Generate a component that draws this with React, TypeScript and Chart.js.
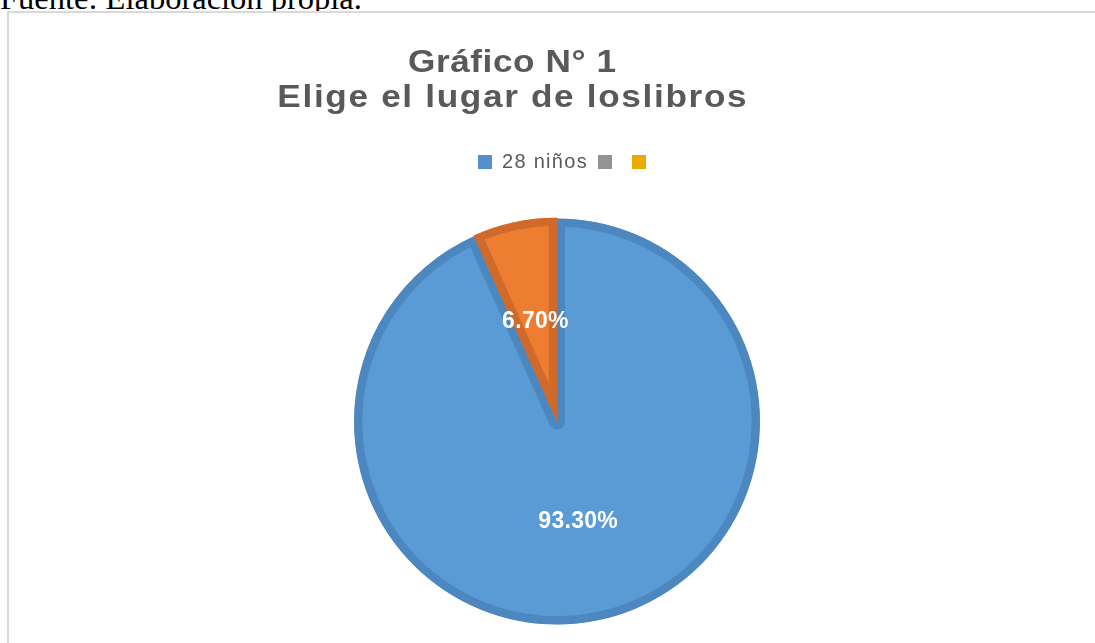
import React, { useEffect, useRef } from 'react';
import { Chart, registerables } from 'chart.js';

Chart.register(...registerables);

const categories = ['28 niños', '', '', ''];
const percentValues = [93.3, 6.7, 0, 0];
const titleLines = ['Gráfico N° 1', 'Elige el lugar de loslibros'];
const sourceNote = 'Fuente: Elaboración propia.';
const sliceFills = ['#5B9BD5', '#ED7D31', '#9A9A9A', '#EAAC00'];
const sliceBorders = ['#4C87BF', '#D06A2B', '#8A8A8A', '#D49C00'];
const legendColors = ['#5590CD', '#ED7D31', '#939393', '#E9AB00'];
const legendHidden = [1];

const SANS = '"Liberation Sans", Arial, Helvetica, sans-serif';

export default function App() {
  const ref = useRef<HTMLCanvasElement>(null);

  useEffect(() => {
    const canvas = ref.current as HTMLCanvasElement;

    const spacingPlugin = {
      id: 'legendSpacing',
      beforeLayout(chart: any) {
        chart.ctx.letterSpacing = '1.3px';
      },
      afterLayout(chart: any) {
        if (chart.legend) {
          chart.legend.left += 10;
          chart.legend.right += 10;
        }
      },
      beforeDraw(chart: any) {
        chart.ctx.letterSpacing = '1.3px';
      },
    };

    const labelPlugin = {
      id: 'sliceLabels',
      afterDatasetsDraw(chart: any) {
        const ctx = chart.ctx;
        const meta = chart.getDatasetMeta(0);
        ctx.save();
        ctx.letterSpacing = '0.3px';
        ctx.font = `bold 23px ${SANS}`;
        ctx.fillStyle = '#FFFFFF';
        ctx.textAlign = 'center';
        ctx.textBaseline = 'middle';
        meta.data.forEach((arc: any, i: number) => {
          const v = percentValues[i];
          if (!v) return;
          const p = arc.tooltipPosition(false);
          ctx.fillText(v.toFixed(2) + '%', p.x, p.y + 1);
        });
        ctx.restore();
      },
    };

    const titlePlugin = {
      id: 'twoLineTitle',
      afterDraw(chart: any) {
        const ctx = chart.ctx;
        const spacing = [0.5, 1.5];
        const baselines = [72, 107];
        const stretch = 1.1;
        titleLines.forEach((line, i) => {
          ctx.save();
          ctx.fillStyle = '#595959';
          ctx.font = `bold 32px ${SANS}`;
          ctx.textBaseline = 'alphabetic';
          ctx.textAlign = 'left';
          ctx.letterSpacing = spacing[i] + 'px';
          ctx.translate(512, baselines[i]);
          ctx.scale(stretch, 1);
          const w = ctx.measureText(line).width - spacing[i];
          ctx.fillText(line, -w / 2, 0);
          ctx.restore();
        });
      },
    };

    const chart = new Chart(canvas, {
      type: 'pie',
      data: {
        labels: categories,
        datasets: [
          {
            data: percentValues,
            backgroundColor: sliceFills,
            borderColor: sliceBorders,
            borderWidth: 8,
            hoverBorderWidth: 8,
            borderAlign: 'inner',
            offset: [0, 3, 0, 0],
            hoverOffset: 0,
            radius: 203,
          } as any,
        ],
      },
      options: {
        responsive: false,
        animation: false,
        events: [],
        layout: { padding: { top: 142, left: 19, right: 0, bottom: 0 } },
        plugins: {
          title: { display: false },
          tooltip: { enabled: false },
          legend: {
            display: true,
            position: 'top',
            labels: {
              boxWidth: 14,
              boxHeight: 14,
              padding: 10,
              color: '#595959',
              font: { size: 20, family: SANS },
              generateLabels: () =>
                categories
                  .map((text, i) => ({
                    text,
                    fillStyle: legendColors[i],
                    strokeStyle: legendColors[i],
                    lineWidth: 0,
                    hidden: false,
                    index: i,
                    fontColor: '#595959',
                  }))
                  .filter((l) => !legendHidden.includes(l.index)),
            },
          },
        },
      } as any,
      plugins: [spacingPlugin, labelPlugin, titlePlugin],
    });

    return () => chart.destroy();
  }, []);

  return (
    <div
      style={{
        position: 'fixed',
        left: 0,
        top: 0,
        width: 1095,
        height: 643,
        overflow: 'hidden',
        background: '#FFFFFF',
      }}
    >
      <div
        style={{
          position: 'absolute',
          left: 0,
          top: -18,
          fontFamily: '"Liberation Serif", "Times New Roman", serif',
          fontSize: 32.5,
          lineHeight: '32px',
          whiteSpace: 'nowrap',
          color: '#000000',
        }}
      >
        {sourceNote}
      </div>
      <div
        style={{
          position: 'absolute',
          left: 7,
          top: 11,
          width: 1200,
          height: 800,
          border: '2px solid #D9D9D9',
          boxSizing: 'border-box',
          background: '#FFFFFF',
        }}
      />
      <canvas
        ref={ref}
        width={1095}
        height={661}
        style={{ position: 'absolute', left: 0, top: 0, width: 1095, height: 661 }}
      />
    </div>
  );
}
